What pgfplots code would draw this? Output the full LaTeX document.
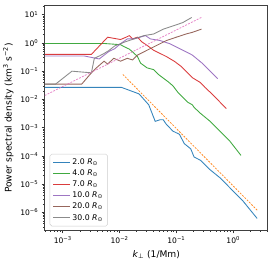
\documentclass[border=0pt]{standalone}
\usepackage{fontspec}
\setmainfont{DejaVu Sans}
\usepackage{pgfplots}
\pgfplotsset{compat=1.18}
\definecolor{cblue}{HTML}{1F77B4}
\definecolor{corange}{HTML}{FF7F0E}
\definecolor{cgreen}{HTML}{2CA02C}
\definecolor{cred}{HTML}{D62728}
\definecolor{cpurple}{HTML}{9467BD}
\definecolor{cbrown}{HTML}{8C564B}
\definecolor{cpink}{HTML}{E377C2}
\definecolor{cgray}{HTML}{7F7F7F}
\newcommand{\sps}[1]{\textsuperscript{#1}}
\newcommand{\Rsun}{\textit{R}\textsubscript{⊙}}
\begin{document}
\begin{tikzpicture}
\begin{axis}[
  scale only axis, width=229.5pt, height=231pt,
  xmode=log, ymode=log,
  xmin=4.83e-4, xmax=4.05, ymin=2.35e-7, ymax=20.4,
  xtick={1e-3,1e-2,1e-1,1},
  xticklabels={10\sps{−3},10\sps{−2},10\sps{−1},10\sps{0}},
  ytick={1e-6,1e-5,1e-4,1e-3,1e-2,1e-1,1,10},
  yticklabels={10\sps{−6},10\sps{−5},10\sps{−4},10\sps{−3},10\sps{−2},10\sps{−1},10\sps{0},10\sps{1}},
  minor xtick={5e-4,6e-4,7e-4,8e-4,9e-4,2e-3,3e-3,4e-3,5e-3,6e-3,7e-3,8e-3,9e-3,2e-2,3e-2,4e-2,5e-2,6e-2,7e-2,8e-2,9e-2,0.2,0.3,0.4,0.5,0.6,0.7,0.8,0.9,2,3,4},
  minor ytick={3e-7,4e-7,5e-7,6e-7,7e-7,8e-7,9e-7,2e-6,3e-6,4e-6,5e-6,6e-6,7e-6,8e-6,9e-6,2e-5,3e-5,4e-5,5e-5,6e-5,7e-5,8e-5,9e-5,2e-4,3e-4,4e-4,5e-4,6e-4,7e-4,8e-4,9e-4,2e-3,3e-3,4e-3,5e-3,6e-3,7e-3,8e-3,9e-3,2e-2,3e-2,4e-2,5e-2,6e-2,7e-2,8e-2,9e-2,0.2,0.3,0.4,0.5,0.6,0.7,0.8,0.9,2,3,4,5,6,7,8,9,20},
  tick pos=left, tick align=outside,
  major tick length=3.3pt, minor tick length=1.9pt,
  every tick/.style={black!80, line width=0.6pt},
  axis line style={black!75, line width=0.7pt},
  tick label style={font=\fontsize{7.8}{9}\selectfont},
  label style={font=\fontsize{9.4}{11}\selectfont},
  xlabel={\textit{k}\textsubscript{⊥} (1/Mm)},
  ylabel={Power spectral density (km\sps{3} s\sps{−2})},
  legend style={at={(0.022,0.017)}, anchor=south west, draw=black!20, rounded corners=2pt,
    fill=white, fill opacity=0.8, text opacity=1, font=\fontsize{8}{9.5}\selectfont,
    row sep=0pt, inner sep=2.8pt},
  legend cell align=left,
  legend image post style={line width=1.3pt},
  every axis plot/.append style={line width=0.9pt, opacity=0.9},
]
\addplot[draw=cblue] coordinates {
(4.8e-4,0.0265) (0.0108,0.0265) (0.0220,0.0156) (0.0326,0.0064) (0.0424,0.00166)
(0.0516,0.0019) (0.0587,0.0019) (0.0670,0.00128) (0.0871,7.5e-4) (0.113,5.8e-4)
(0.138,2.7e-4) (0.179,1.77e-4) (0.205,9.1e-5) (0.265,7.0e-5) (0.394,3.2e-5)
(0.583,1.69e-5) (0.865,7.6e-6) (1.47,2.6e-6) (2.64,6.1e-7)};
\addlegendentry{2.0 \Rsun}
\addplot[draw=cgreen] coordinates {
(4.8e-4,0.95) (5.3e-3,0.95) (0.0104,0.86) (0.0122,0.72) (0.0148,0.6) (0.0169,0.48)
(0.0206,0.33) (0.0235,0.19) (0.0305,0.13) (0.0396,0.113) (0.0483,0.076) (0.0628,0.051)
(0.0716,0.042) (0.0871,0.03) (0.106,0.0178) (0.121,0.0135) (0.138,0.0105) (0.157,0.008)
(0.191,0.0064) (0.205,0.0052) (0.265,0.0032) (0.394,0.00166) (0.583,7.5e-4)
(0.865,3.4e-4) (1.37,1.04e-4)};
\addlegendentry{4.0 \Rsun}
\addplot[draw=cred] coordinates {
(4.8e-4,0.39) (3.19e-3,0.39) (6.16e-3,1.58) (0.0104,1.31) (0.0130,1.58) (0.0148,1.80)
(0.0169,1.38) (0.0206,1.58) (0.025,1.06) (0.0305,0.815) (0.0396,0.548) (0.0516,0.422)
(0.067,0.325) (0.0931,0.219) (0.121,0.147) (0.157,0.0868) (0.191,0.0584) (0.265,0.0393)
(0.319,0.0265) (0.394,0.0178) (0.512,0.0105) (0.759,0.0047)};
\addlegendentry{7.0 \Rsun}
\addplot[draw=cpurple] coordinates {
(4.8e-4,0.341) (2.42e-3,0.341) (4.38e-3,0.269) (6.49e-3,0.495) (8.2e-3,0.62)
(0.0104,0.931) (0.0137,1.38) (0.018,1.38) (0.0286,1.80) (0.0348,1.38) (0.0516,1.21)
(0.0765,0.931) (0.113,0.627) (0.168,0.422) (0.191,0.369) (0.284,0.191) (0.394,0.0993)
(0.532,0.0539)};
\addlegendentry{10.0 \Rsun}
\addplot[draw=cbrown] coordinates {
(4.8e-4,0.0344) (2.15e-3,0.0344) (3.19e-3,0.0868) (3.89e-3,0.129) (5.33e-3,0.224)
(6.16e-3,0.177) (7.89e-3,0.284) (0.0104,0.224) (0.0137,0.284) (0.0169,0.248)
(0.0206,0.369) (0.0305,0.548) (0.0452,0.815) (0.067,1.21) (0.0993,1.58) (0.147,2.05)
(0.191,2.35) (0.276,3.05)};
\addlegendentry{20.0 \Rsun}
\addplot[draw=cgray] coordinates {
(4.8e-4,0.0344) (7.44e-4,0.0344) (1.45e-3,0.0993) (3.19e-3,0.0868) (3.59e-3,0.284)
(4.38e-3,0.341) (5.33e-3,0.42) (6.49e-3,0.535) (8.22e-3,0.78) (0.0104,0.93)
(0.0122,1.06) (0.018,1.38) (0.0267,1.80) (0.0396,2.05) (0.0587,3.05) (0.0871,3.96)
(0.129,5.19) (0.186,7.9)};
\addlegendentry{30.0 \Rsun}
\addplot[draw=corange, forget plot, line width=0.8pt, dash pattern=on 2pt off 1.3pt] coordinates {
(0.0114,0.076) (2.64,1.2e-6)};
\addplot[draw=cpink, forget plot, line width=0.8pt, dash pattern=on 2pt off 1.3pt] coordinates {
(4.8e-4,0.0137) (0.276,7.9)};
\end{axis}
\path ([xshift=-38pt,yshift=-29pt]current axis.south west) rectangle ([xshift=6.5pt,yshift=6pt]current axis.north east);
\end{tikzpicture}
\end{document}
